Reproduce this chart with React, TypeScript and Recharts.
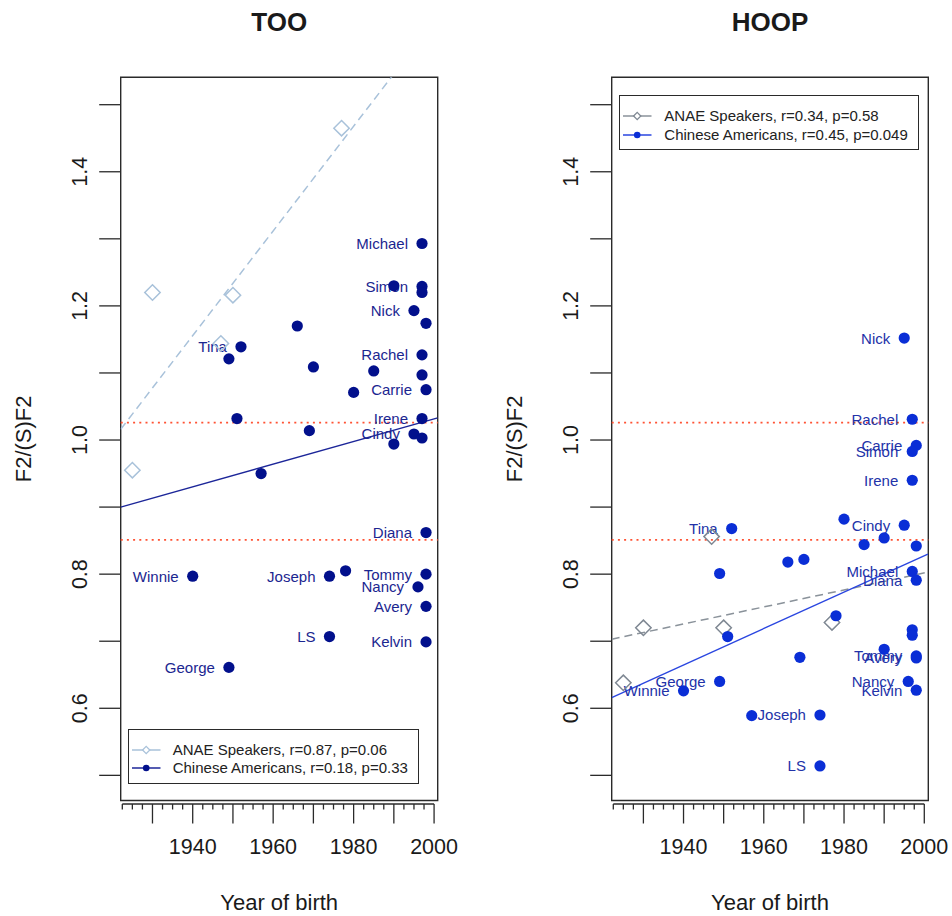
import {
  ComposedChart,
  Scatter,
  Line,
  XAxis,
  YAxis,
  ReferenceLine,
  ReferenceArea,
  Legend,
} from 'recharts'

const FONT = '"Liberation Sans", Arial, Helvetica, sans-serif'

// TOO panel, Chinese Americans (year of birth, F2/(S)F2, label)
const tooYear = [
  1997, 1990, 1997, 1997, 1995, 1998, 1966, 1952, 1949, 1997, 1970, 1985, 1997, 1998, 1980, 1951,
  1997, 1969, 1995, 1997, 1990, 1957, 1998, 1940, 1974, 1978, 1998, 1996, 1998, 1974, 1998, 1949,
]
const tooValue = [
  1.293, 1.23, 1.229, 1.22, 1.193, 1.174, 1.17, 1.139, 1.121, 1.127, 1.109, 1.103, 1.097, 1.075,
  1.071, 1.032, 1.032, 1.014, 1.009, 1.003, 0.994, 0.95, 0.862, 0.797, 0.797, 0.805, 0.8, 0.781,
  0.752, 0.707, 0.699, 0.661,
]
const tooName = [
  'Michael', '', 'Simon', '', 'Nick', '', '', 'Tina', '', 'Rachel', '', '', '', 'Carrie', '', '',
  'Irene', '', 'Cindy', '', '', '', 'Diana', 'Winnie', 'Joseph', '', 'Tommy', 'Nancy', 'Avery', 'LS',
  'Kelvin', 'George',
]
// TOO panel, ANAE speakers
const tooAnaeYear = [1925, 1930, 1947, 1950, 1977]
const tooAnaeValue = [0.955, 1.22, 1.144, 1.216, 1.465]

// HOOP panel, Chinese Americans
const hoopYear = [
  1995, 1997, 1998, 1997, 1997, 1980, 1995, 1952, 1990, 1985, 1998, 1970, 1966, 1949, 1997, 1998,
  1978, 1997, 1997, 1951, 1990, 1998, 1998, 1969, 1949, 1940, 1996, 1998, 1957, 1974, 1974,
]
const hoopValue = [
  1.152, 1.031, 0.992, 0.983, 0.94, 0.882, 0.873, 0.868, 0.854, 0.844, 0.842, 0.822, 0.818, 0.801,
  0.804, 0.791, 0.738, 0.717, 0.709, 0.707, 0.688, 0.678, 0.675, 0.676, 0.64, 0.626, 0.64, 0.627,
  0.589, 0.59, 0.514,
]
const hoopName = [
  'Nick', 'Rachel', 'Carrie', 'Simon', 'Irene', '', 'Cindy', 'Tina', '', '', '', '', '', '',
  'Michael', 'Diana', '', '', '', '', '', 'Tommy', 'Avery', '', 'George', 'Winnie', 'Nancy', 'Kelvin',
  '', 'Joseph', 'LS',
]
// HOOP panel, ANAE speakers
const hoopAnaeYear = [1925, 1930, 1947, 1950, 1977]
const hoopAnaeValue = [0.638, 0.72, 0.856, 0.72, 0.728]

// regression lines: value at the left and right end of the year range
const fitYears = [1922.1, 2000.9]
const tooAnaeFit = [1.016, 1.631]
const tooChineseFit = [0.9, 1.033]
const hoopAnaeFit = [0.703, 0.803]
const hoopChineseFit = [0.616, 0.83]

// dotted red reference band
const thresholds = [1.026, 0.851]

const yTicks = [0.5, 0.6, 0.7, 0.8, 0.9, 1.0, 1.1, 1.2, 1.3, 1.4, 1.5]
const yTickLabels = [0.6, 0.8, 1.0, 1.2, 1.4]
const xTicks = [
  1922.5, 1925, 1927.5, 1930, 1932.5, 1935, 1937.5, 1940, 1942.5, 1945, 1947.5, 1950, 1952.5, 1955,
  1957.5, 1960, 1962.5, 1965, 1967.5, 1970, 1972.5, 1975, 1977.5, 1980, 1982.5, 1985, 1987.5, 1990,
  1992.5, 1995, 1997.5, 2000,
]
const xTickLabels = [1940, 1960, 1980, 2000]

const tooLegend = ['ANAE Speakers, r=0.87, p=0.06', 'Chinese Americans, r=0.18, p=0.33']
const hoopLegend = ['ANAE Speakers, r=0.34, p=0.58', 'Chinese Americans, r=0.45, p=0.049']

// layout
const W = 476
const H = 916
const TOP = 77.2
const XAXIS_H = 115.5
const Y_DOMAIN: [number, number] = [0.4625, 1.541]
const AXIS_COLOR = '#2a2a2a'

type Colors = {
  dot: string
  label: string
  line: string
  anae: string
  anaeLine: string
}

type PanelProps = {
  left: number
  title: string
  years: number[]
  values: number[]
  names: string[]
  anaeYears: number[]
  anaeValues: number[]
  anaeFit: number[]
  chineseFit: number[]
  xDomain: [number, number]
  yAxisWidth: number
  plotWidth: number
  legend: string[]
  legendBox: { left: number; top: number; width: number; height: number; rows: number[] }
  colors: Colors
}

function makeXTick(pxPerYear: number) {
  return (props: any) => {
    const { x, y, payload } = props
    const v = payload.value as number
    const top = y + 3.5
    const major = v % 10 === 0
    const last = xTicks[xTicks.length - 1]
    return (
      <g>
        {v === xTicks[0] && (
          <line
            x1={x}
            x2={x + (last - v) * pxPerYear}
            y1={top}
            y2={top}
            stroke={AXIS_COLOR}
            strokeWidth={1.3}
          />
        )}
        <line x1={x} x2={x} y1={top} y2={top + (major ? 19.5 : 5.5)} stroke={AXIS_COLOR} strokeWidth={1.3} />
        {xTickLabels.includes(v) && (
          <text x={x} y={top + 49.5} textAnchor="middle" fontSize={21.5} fontFamily={FONT} fill="#1a1a1a">
            {v}
          </text>
        )}
      </g>
    )
  }
}

function YTick(props: any) {
  const { x, y, payload } = props
  const v = payload.value as number
  const labeled = yTickLabels.some((t) => Math.abs(t - v) < 1e-6)
  const bx = x - 33.4
  return (
    <g>
      <line x1={x - 21.5} x2={x} y1={y} y2={y} stroke={AXIS_COLOR} strokeWidth={1.3} />
      {labeled && (
        <text
          x={bx}
          y={y}
          transform={`rotate(-90, ${bx}, ${y})`}
          textAnchor="middle"
          fontSize={21.5}
          fontFamily={FONT}
          fill="#1a1a1a"
        >
          {v.toFixed(1)}
        </text>
      )}
    </g>
  )
}

const labelShape = (color: string) => (p: any) =>
  p.payload.name ? (
    <text x={p.cx - 14} y={p.cy + 5.5} textAnchor="end" fontSize={15} fontFamily={FONT} fill={color}>
      {p.payload.name}
    </text>
  ) : (
    <g />
  )

const dotShape = (color: string) => (p: any) => <circle cx={p.cx} cy={p.cy} r={5.6} fill={color} />

const diamondShape = (color: string) => (p: any) => {
  const d = 7.7
  return (
    <polygon
      points={`${p.cx},${p.cy - d} ${p.cx + d},${p.cy} ${p.cx},${p.cy + d} ${p.cx - d},${p.cy}`}
      fill="none"
      stroke={color}
      strokeWidth={1.5}
    />
  )
}

function LegendBox({ labels, box, colors }: { labels: string[]; box: PanelProps['legendBox']; colors: Colors }) {
  const symbols = [
    { line: colors.anaeLine, kind: 'diamond', color: colors.anae },
    { line: colors.line, kind: 'dot', color: colors.dot },
  ]
  return (
    <div
      style={{
        position: 'relative',
        width: box.width,
        height: box.height,
        border: `1.3px solid ${AXIS_COLOR}`,
        boxSizing: 'border-box',
        background: '#fff',
        fontFamily: FONT,
        fontSize: 15,
        color: '#222',
      }}
    >
      {labels.map((label, i) => (
        <div
          key={label}
          style={{
            position: 'absolute',
            left: 0,
            top: box.rows[i] - 10,
            height: 20,
            lineHeight: '20px',
            whiteSpace: 'nowrap',
          }}
        >
          <svg width={40} height={20} style={{ position: 'absolute', left: 0, top: 0 }}>
            <line x1={3} x2={31.5} y1={10} y2={10} stroke={symbols[i].line} strokeWidth={1.5} />
            {symbols[i].kind === 'dot' ? (
              <circle cx={17.2} cy={10} r={3.3} fill={symbols[i].color} />
            ) : (
              <polygon points="17.2,6.4 20.8,10 17.2,13.6 13.6,10" fill="#fff" stroke={symbols[i].color} strokeWidth={1.3} />
            )}
          </svg>
          <span style={{ position: 'absolute', left: 44, top: 0 }}>{label}</span>
        </div>
      ))}
    </div>
  )
}

function Panel(p: PanelProps) {
  const chinese = p.years.map((x, i) => ({ x, y: p.values[i], name: p.names[i] }))
  const anae = p.anaeYears.map((x, i) => ({ x, y: p.anaeValues[i] }))
  const anaeFit = fitYears.map((x, i) => ({ x, y: p.anaeFit[i] }))
  const chineseFit = fitYears.map((x, i) => ({ x, y: p.chineseFit[i] }))
  const pxPerYear = p.plotWidth / (p.xDomain[1] - p.xDomain[0])
  const plotLeft = p.yAxisWidth
  const plotCenterX = plotLeft + p.plotWidth / 2
  const plotCenterY = (TOP + (H - XAXIS_H)) / 2

  return (
    <div style={{ position: 'absolute', left: p.left, top: 0, width: W, height: H }}>
      <ComposedChart
        width={W}
        height={H}
        margin={{ top: TOP, right: W - plotLeft - p.plotWidth, bottom: 0, left: 0 }}
      >
        <XAxis
          type="number"
          dataKey="x"
          domain={p.xDomain}
          allowDataOverflow
          ticks={xTicks}
          interval={0}
          height={XAXIS_H}
          axisLine={false}
          tickLine={false}
          tickSize={0}
          tickMargin={0}
          tick={makeXTick(pxPerYear)}
        />
        <YAxis
          type="number"
          dataKey="y"
          domain={Y_DOMAIN}
          allowDataOverflow
          ticks={yTicks}
          interval={0}
          width={p.yAxisWidth}
          axisLine={false}
          tickLine={false}
          tickSize={0}
          tickMargin={0}
          tick={YTick}
        />
        <ReferenceArea
          x1={p.xDomain[0]}
          x2={p.xDomain[1]}
          y1={Y_DOMAIN[0]}
          y2={Y_DOMAIN[1]}
          fill="none"
          stroke={AXIS_COLOR}
          strokeWidth={1.4}
          ifOverflow="visible"
        />
        {thresholds.map((t) => (
          <ReferenceLine key={t} y={t} stroke="#ff5233" strokeWidth={1.7} strokeDasharray="2 4.2" />
        ))}
        <Line
          data={anaeFit}
          dataKey="y"
          stroke={p.colors.anaeLine}
          strokeWidth={1.5}
          strokeDasharray="8 5"
          dot={false}
          activeDot={false}
          isAnimationActive={false}
        />
        <Line
          data={chineseFit}
          dataKey="y"
          stroke={p.colors.line}
          strokeWidth={1.4}
          dot={false}
          activeDot={false}
          isAnimationActive={false}
        />
        <Scatter data={chinese} shape={labelShape(p.colors.label)} isAnimationActive={false} />
        <Scatter data={anae} shape={diamondShape(p.colors.anae)} isAnimationActive={false} />
        <Scatter data={chinese} shape={dotShape(p.colors.dot)} isAnimationActive={false} />
        <Legend
          layout="horizontal"
          verticalAlign="middle"
          align="center"
          wrapperStyle={{
            left: p.legendBox.left,
            top: p.legendBox.top,
            width: p.legendBox.width,
            height: p.legendBox.height,
          }}
          content={() => <LegendBox labels={p.legend} box={p.legendBox} colors={p.colors} />}
        />
      </ComposedChart>
      <svg
        width={W}
        height={H}
        style={{ position: 'absolute', left: 0, top: 0, pointerEvents: 'none' }}
        fontFamily={FONT}
        fill="#1a1a1a"
      >
        <text x={plotCenterX} y={30.5} textAnchor="middle" fontSize={26} fontWeight="bold">
          {p.title}
        </text>
        <text
          x={plotLeft - 89.4}
          y={plotCenterY}
          transform={`rotate(-90, ${plotLeft - 89.4}, ${plotCenterY})`}
          textAnchor="middle"
          fontSize={22}
        >
          F2/(S)F2
        </text>
        <text x={plotCenterX} y={910} textAnchor="middle" fontSize={22}>
          Year of birth
        </text>
      </svg>
    </div>
  )
}

export default function App() {
  return (
    <div style={{ position: 'absolute', left: 0, top: 0, width: 952, height: 916, background: '#fff' }}>
      <Panel
        left={0}
        title="TOO"
        years={tooYear}
        values={tooValue}
        names={tooName}
        anaeYears={tooAnaeYear}
        anaeValues={tooAnaeValue}
        anaeFit={tooAnaeFit}
        chineseFit={tooChineseFit}
        xDomain={[1922.1, 2000.9]}
        yAxisWidth={120.7}
        plotWidth={317}
        legend={tooLegend}
        legendBox={{ left: 127.7, top: 729.3, width: 291.6, height: 54.7, rows: [20, 37.4] }}
        colors={{
          dot: '#02108c',
          label: '#1b2690',
          line: '#1c2699',
          anae: '#a9c2da',
          anaeLine: '#a9c2da',
        }}
      />
      <Panel
        left={476}
        title="HOOP"
        years={hoopYear}
        values={hoopValue}
        names={hoopName}
        anaeYears={hoopAnaeYear}
        anaeValues={hoopAnaeValue}
        anaeFit={hoopAnaeFit}
        chineseFit={hoopChineseFit}
        xDomain={[1922.1, 2001.0]}
        yAxisWidth={135.7}
        plotWidth={316.6}
        legend={hoopLegend}
        legendBox={{ left: 143.3, top: 95, width: 300, height: 55, rows: [20, 39] }}
        colors={{
          dot: '#0a2ed6',
          label: '#2232a8',
          line: '#2a46e0',
          anae: '#7f8893',
          anaeLine: '#8a929a',
        }}
      />
    </div>
  )
}
